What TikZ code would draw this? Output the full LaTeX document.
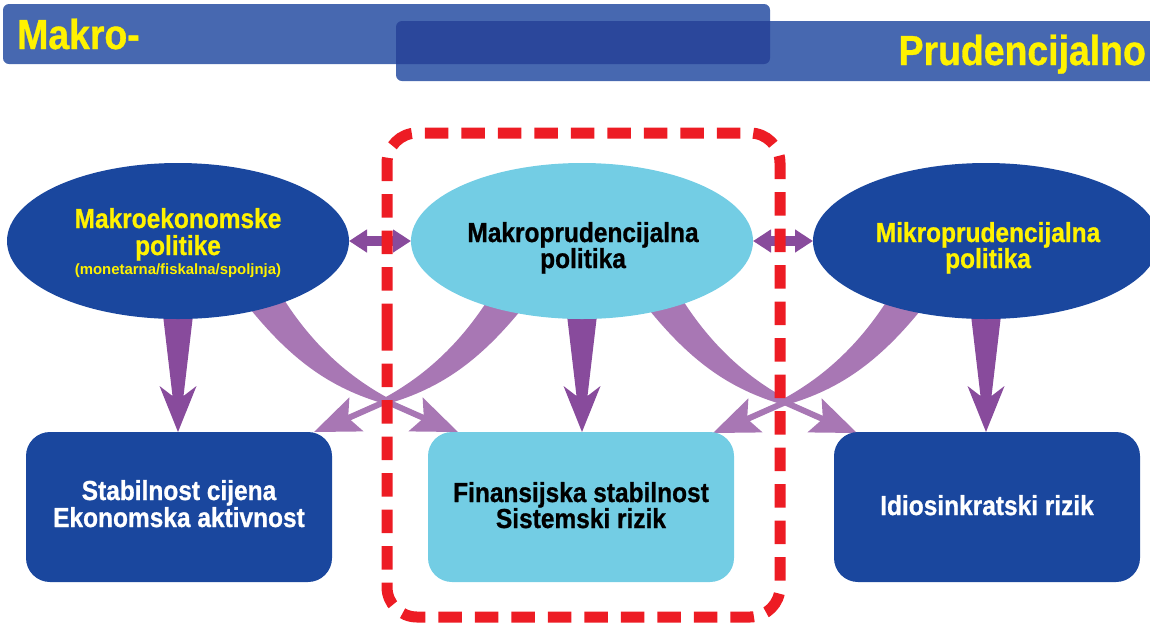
\documentclass[tikz,border=0pt]{standalone}
\usepackage{fontspec}
\usetikzlibrary{shapes.geometric,arrows.meta,calc}
\newfontfamily\condbold{Liberation Sans}[FakeStretch=0.89, BoldFeatures={FakeBold=0.8}]
\newfontfamily\plainsans{Liberation Sans}
\definecolor{barblue}{HTML}{4768B0}
\definecolor{bardark}{HTML}{2B479B}
\definecolor{navy}{HTML}{1A479E}
\definecolor{cyanfill}{HTML}{73CDE4}
\definecolor{ylw}{HTML}{FFF200}
\definecolor{purpdark}{HTML}{884B9C}
\definecolor{purplite}{HTML}{A877B4}
\definecolor{dashred}{HTML}{ED1C24}
\pgfdeclarelayer{bg}
\pgfsetlayers{bg,main}
\tikzset{
  ellnode/.style={ellipse, minimum width=342pt, minimum height=156pt, inner sep=0pt, outer sep=0pt},
  boxnode/.style={rectangle, rounded corners=24pt, minimum width=306pt, minimum height=150pt, inner sep=0pt, outer sep=0pt},
  bigtxt/.style={anchor=base, inner sep=0pt, font=\condbold\bfseries\fontsize{27.5pt}{26pt}\selectfont},
  smalltxt/.style={anchor=base, inner sep=0pt, font=\plainsans\bfseries\fontsize{14.9pt}{15pt}\selectfont},
  headtxt/.style={inner sep=0pt, text=ylw, font=\condbold\bfseries\fontsize{42pt}{42pt}\selectfont},
  dblarr/.style={draw=purpdark, line width=10pt, {Triangle[length=18pt,width=22pt]}-{Triangle[length=18pt,width=22pt]}},
  redframe/.style={draw=dashred, line width=11pt, dash pattern=on 23.5pt off 13pt, rounded corners=30pt},
}
% straight tapered arrow from ellipse #1 down to box #2
\newcommand\vertarrow[2]{%
  \coordinate (tip#1) at (#1.south |- #2.north);
  \fill[purpdark] ($(#1.south)+(-15.5,-8)$) -- ($(tip#1)+(-5.5,-36)$) -- ($(tip#1)+(-18.5,-46)$) -- (tip#1)
     -- ($(tip#1)+(18.5,-46)$) -- ($(tip#1)+(5.5,-36)$) -- ($(#1.south)+(15.5,-8)$) -- cycle;}
% curved tapered arrow, local coordinates around the crossing point
\newcommand\bentarrow{%
  \fill[purplite] (-143,-101) .. controls (-96,-41) and (-56,-13) .. (-1,3) -- (2,-3)
     .. controls (-46,-29) and (-81,-66) .. (-108,-111) -- cycle;
  \draw[purplite, line width=6pt] (-3,-1) -- (40,18);
  \fill[purplite] (72,31) -- (22.4,30.4) -- (37.85,16.8) -- (36.6,-3.7) -- cycle;}
\begin{document}
\begin{tikzpicture}[x=1pt,y=-1pt]
\useasboundingbox (0,0) rectangle (1150,622);
\clip (0,0) rectangle (1150,622);
% header bars
\fill[barblue, rounded corners=6pt] (3,4) rectangle (770,64);
\fill[barblue, rounded corners=6pt] (396,21) rectangle (1160,81);
\begin{scope}
  \clip[rounded corners=6pt] (3,4) rectangle (770,64);
  \fill[bardark, rounded corners=6pt] (396,21) rectangle (1160,81);
\end{scope}
\node[headtxt, anchor=base west] (hmakro) at (17,49) {Makro-};
\node[headtxt, anchor=base east] (hprud) at (1146,65) {Prudencijalno};
% ellipses
\node[ellnode, fill=navy] (mac) at (178,241) {};
\node[ellnode, fill=cyanfill] (mp) at (582,241) {};
\node[ellnode, fill=navy, minimum width=346pt] (mic) at (986,241) {};
% boxes
\node[boxnode, fill=navy] (bl) at (179,507) {};
\node[boxnode, fill=cyanfill] (bc) at (581,507) {};
\node[boxnode, fill=navy] (br) at (987,507) {};
% texts
\node[bigtxt, text=ylw] (mac1) at (178,228) {Makroekonomske};
\node[bigtxt, text=ylw] (mac2) at (178,255) {politike};
\node[smalltxt, text=ylw] (mac3) at (178,274.5) {(monetarna/fiskalna/spoljnja)};
\node[bigtxt, text=black] (mp1) at (583,242) {Makroprudencijalna};
\node[bigtxt, text=black] (mp2) at (583,268) {politika};
\node[bigtxt, text=ylw] (mic1) at (988,242) {Mikroprudencijalna};
\node[bigtxt, text=ylw] (mic2) at (988,268) {politika};
\node[bigtxt, text=white] (bl1) at (179,500) {Stabilnost cijena};
\node[bigtxt, text=white] (bl2) at (179,527) {Ekonomska aktivnost};
\node[bigtxt, text=black] (bc1) at (581,502) {Finansijska stabilnost};
\node[bigtxt, text=black] (bc2) at (581,528) {Sistemski rizik};
\node[bigtxt, text=white] (br1) at (987,515) {Idiosinkratski rizik};
% crossing points of the curved arrows
\coordinate (x1) at (386,401);
\coordinate (x2) at (785,402);
% arrows under the shapes
\begin{pgfonlayer}{bg}
\begin{scope}
  \clip (0,0) rectangle (1150,432);
  \vertarrow{mac}{bl}
  \vertarrow{mp}{bc}
  \vertarrow{mic}{br}
  \begin{scope}[shift={(x1)}] \bentarrow \end{scope}
  \begin{scope}[shift={(x1)}, xscale=-1] \bentarrow \end{scope}
  \begin{scope}[shift={(x2)}] \bentarrow \end{scope}
  \begin{scope}[shift={(x2)}, xscale=-1] \bentarrow \end{scope}
\end{scope}
\end{pgfonlayer}
% double arrows
\draw[dblarr] (mac.east) -- (mp.west);
\draw[dblarr] (mp.east) -- (mic.west);
% red dashed frame
\draw[redframe] (387,297) -- (387,617) -- (780,617) -- (780,133) -- (387,133) -- cycle;
\end{tikzpicture}
\end{document}
